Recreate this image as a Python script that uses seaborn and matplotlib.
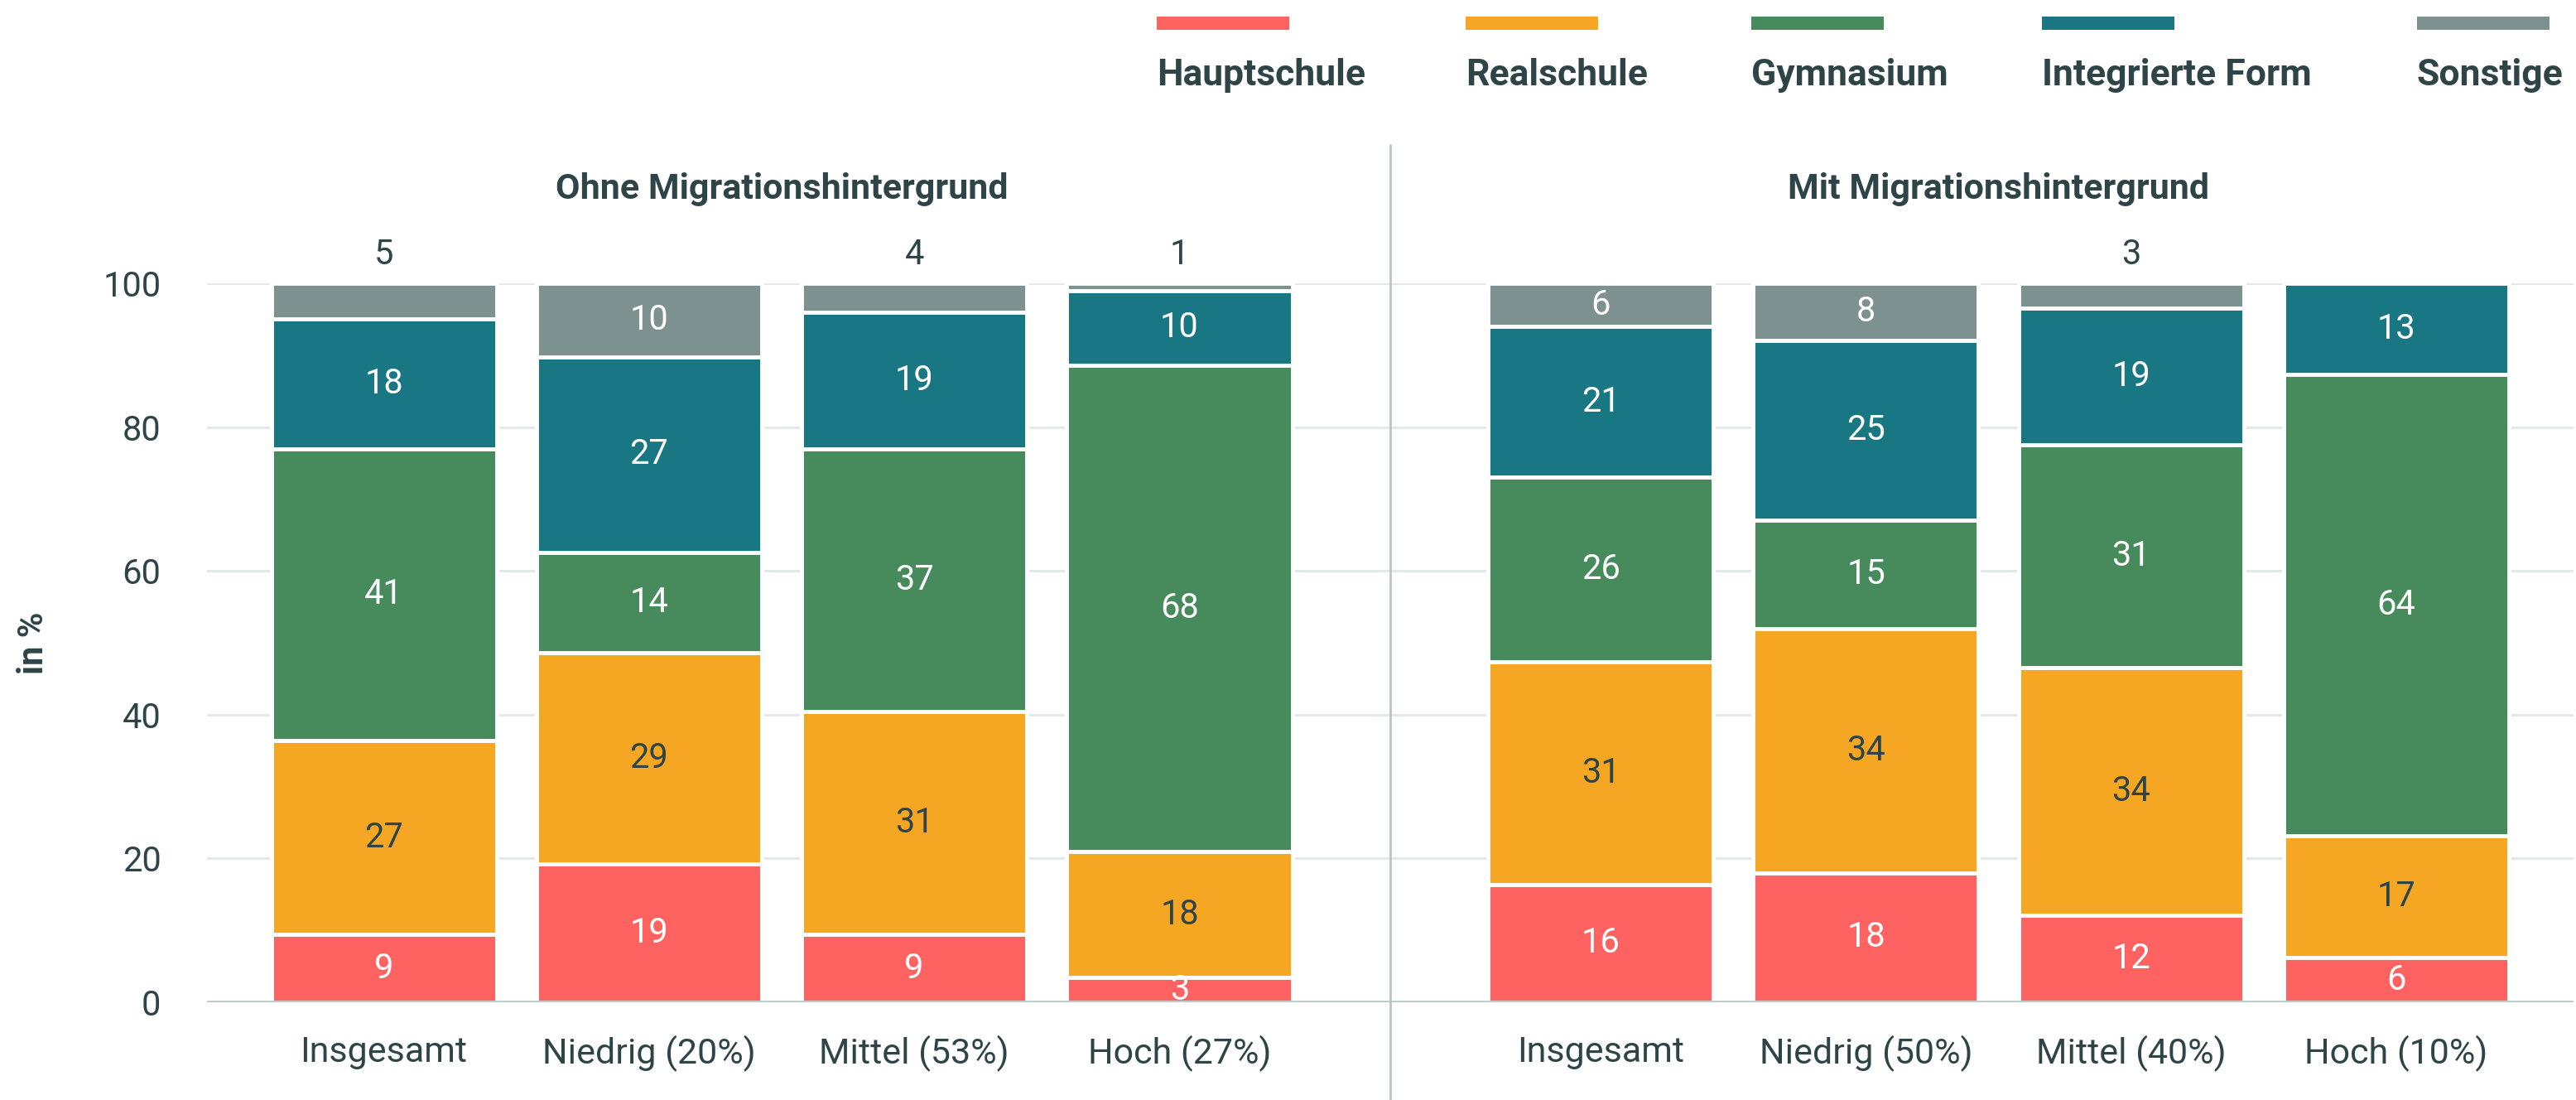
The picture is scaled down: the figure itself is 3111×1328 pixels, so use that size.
import numpy as np
import pandas as pd
import matplotlib
matplotlib.use("Agg")
import matplotlib.pyplot as plt
import seaborn as sns
from matplotlib.lines import Line2D
from matplotlib.patches import Rectangle

# ---------------- data ----------------
series = ["Hauptschule", "Realschule", "Gymnasium", "Integrierte Form", "Sonstige"]
colors = ["#FF6361", "#F5A623", "#478B5C", "#187783", "#7E9191"]

categories_ohne = ["Insgesamt", "Niedrig (20%)", "Mittel (53%)", "Hoch (27%)"]
categories_mit = ["Insgesamt", "Niedrig (50%)", "Mittel (40%)", "Hoch (10%)"]
panel_titles = ["Ohne Migrationshintergrund", "Mit Migrationshintergrund"]
y_ticks = [0, 20, 40, 60, 80, 100]
y_label = "in %"

ohne_hauptschule = [9.4, 19.2, 9.4, 3.4]
ohne_realschule = [27, 29.4, 31, 17.6]
ohne_gymnasium = [40.6, 14, 36.6, 67.6]
ohne_integrierte = [18, 27.2, 19, 10.4]
ohne_sonstige = [5, 10.2, 4, 1]

mit_hauptschule = [16.4, 18, 12.1, 6.2]
mit_realschule = [31, 34, 34.4, 16.9]
mit_gymnasium = [25.6, 15, 31, 64.2]
mit_integrierte = [21, 25, 19.1, 12.7]
mit_sonstige = [6, 8, 3.4, 0]

# ---------------- style ----------------
W, H = 3111, 1328
DARK = "#2F4447"
GRID = "#E3E8E8"
BASE = "#B9C5C5"
FS = 30

sns.set_theme(style="white")
plt.rcParams["font.family"] = ["Roboto", "DejaVu Sans"]

fig = plt.figure(figsize=(W / 100, H / 100), dpi=100)

ax_bottom = (H - 1210) / H
ax_height = (1210 - 342) / H
ax_left = fig.add_axes([250 / W, ax_bottom, 1429 / W, ax_height])
ax_right = fig.add_axes([1679 / W, ax_bottom, 1429 / W, ax_height])


def draw_panel(ax, cats, values, title, xlim, show_y):
    df = pd.DataFrame(dict(zip(series, values)), index=cats)
    cum = df.cumsum(axis=1)
    for s, c in reversed(list(zip(series, colors))):
        sns.barplot(x=cats, y=cum[s].values, order=cats, color=c, saturation=1,
                    width=0.85, edgecolor="white", linewidth=3.5,
                    errorbar=None, ax=ax, zorder=2)
    for i, cat in enumerate(cats):
        bottom = 0
        for j, s in enumerate(series):
            v = df.loc[cat, s]
            if v > 0:
                if j == len(series) - 1 and v < 5.5:
                    ax.text(i, 104.0, f"{v:.0f}", ha="center", va="center",
                            color=DARK, fontsize=FS, clip_on=False)
                else:
                    col = DARK if s == "Realschule" else "white"
                    ax.text(i, bottom + v / 2, f"{v:.0f}", ha="center", va="center",
                            color=col, fontsize=FS, zorder=5)
            bottom += v
    ax.set_xlim(*xlim)
    ax.set_ylim(0, 100)
    ax.set_yticks(y_ticks)
    ax.yaxis.grid(True, color=GRID, lw=2.2, zorder=0)
    ax.xaxis.grid(False)
    ax.set_axisbelow(True)
    for sp in ax.spines.values():
        sp.set_visible(False)
    ax.axhline(0, color=BASE, lw=2.6, zorder=4)
    ax.tick_params(axis="both", length=0, labelsize=FS, labelcolor=DARK)
    ax.tick_params(axis="x", pad=29, labelsize=31)
    ax.tick_params(axis="y", pad=40)
    if not show_y:
        ax.set_yticklabels([])
    ax.set_xlabel("")
    ax.set_ylabel("")
    ax.text(1.5, 113.1, title, ha="center", va="center", fontweight="bold",
            fontsize=31, color=DARK, clip_on=False)


draw_panel(ax_left, categories_ohne,
           [ohne_hauptschule, ohne_realschule, ohne_gymnasium, ohne_integrierte, ohne_sonstige],
           panel_titles[0], (-0.667, 3.795), True)
draw_panel(ax_right, categories_mit,
           [mit_hauptschule, mit_realschule, mit_gymnasium, mit_integrierte, mit_sonstige],
           panel_titles[1], (-0.795, 3.670), False)

# y label
fig.text(40 / W, 1 - 776 / H, y_label, rotation=90, ha="center", va="center",
         fontweight="bold", fontsize=FS, color=DARK)

# separator
fig.add_artist(Line2D([1679 / W, 1679 / W], [0, 1 - 175 / H], color=BASE, lw=2))

# legend
legend_x = [1397, 1770, 2115, 2466, 2919]
for s, c, x0 in zip(series, colors, legend_x):
    fig.add_artist(Rectangle((x0 / W, 1 - 36 / H), 160 / W, 16 / H,
                             transform=fig.transFigure, color=c, lw=0))
    fig.text(x0 / W, 1 - 103 / H, s, ha="left", va="baseline", fontweight="bold",
             fontsize=32, color=DARK)

fig.savefig("out.png", dpi=100)
